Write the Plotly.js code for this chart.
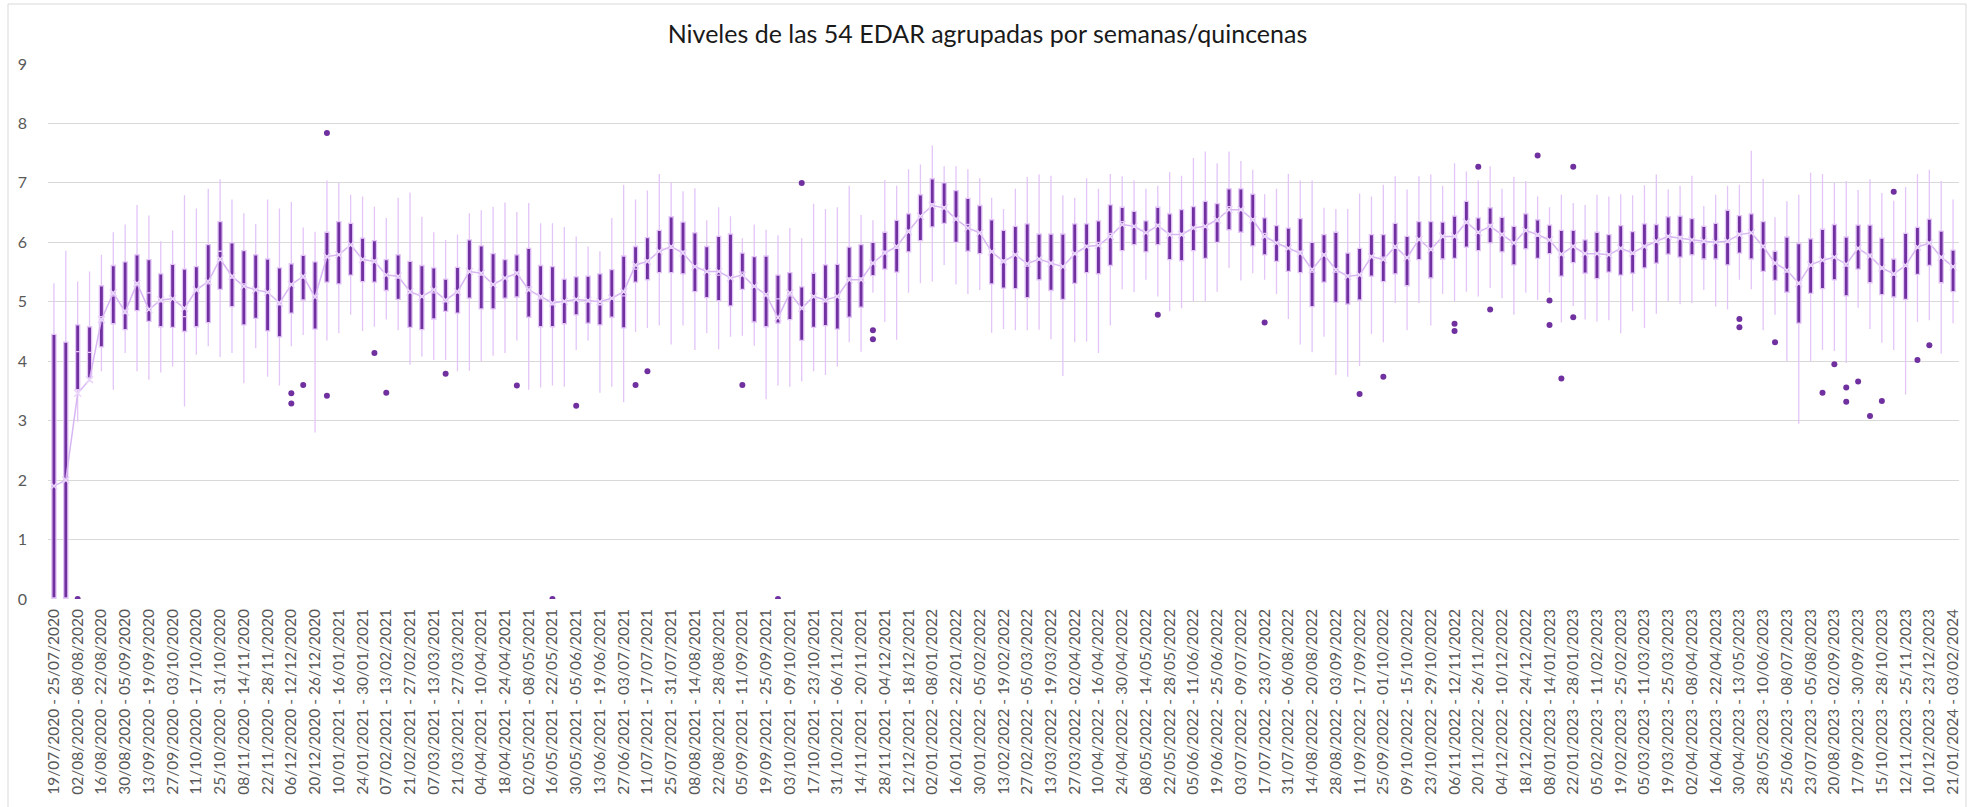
<!DOCTYPE html>
<html>
<head>
<meta charset="utf-8">
<script src="https://cdn.plot.ly/plotly-3.0.1.min.js"></script>
<style>
html,body{margin:0;padding:0;background:#fff;}
#chart{width:1975px;height:807px;}
</style>
</head>
<body>
<div id="chart"></div>
<script>
const categories = [
"19/07/2020 - 25/07/2020","26/07/2020 - 01/08/2020","02/08/2020 - 08/08/2020","09/08/2020 - 15/08/2020",
"16/08/2020 - 22/08/2020","23/08/2020 - 29/08/2020","30/08/2020 - 05/09/2020","06/09/2020 - 12/09/2020",
"13/09/2020 - 19/09/2020","20/09/2020 - 26/09/2020","27/09/2020 - 03/10/2020","04/10/2020 - 10/10/2020",
"11/10/2020 - 17/10/2020","18/10/2020 - 24/10/2020","25/10/2020 - 31/10/2020","01/11/2020 - 07/11/2020",
"08/11/2020 - 14/11/2020","15/11/2020 - 21/11/2020","22/11/2020 - 28/11/2020","29/11/2020 - 05/12/2020",
"06/12/2020 - 12/12/2020","13/12/2020 - 19/12/2020","20/12/2020 - 26/12/2020","27/12/2020 - 09/01/2021",
"10/01/2021 - 16/01/2021","17/01/2021 - 23/01/2021","24/01/2021 - 30/01/2021","31/01/2021 - 06/02/2021",
"07/02/2021 - 13/02/2021","14/02/2021 - 20/02/2021","21/02/2021 - 27/02/2021","28/02/2021 - 06/03/2021",
"07/03/2021 - 13/03/2021","14/03/2021 - 20/03/2021","21/03/2021 - 27/03/2021","28/03/2021 - 03/04/2021",
"04/04/2021 - 10/04/2021","11/04/2021 - 17/04/2021","18/04/2021 - 24/04/2021","25/04/2021 - 01/05/2021",
"02/05/2021 - 08/05/2021","09/05/2021 - 15/05/2021","16/05/2021 - 22/05/2021","23/05/2021 - 29/05/2021",
"30/05/2021 - 05/06/2021","06/06/2021 - 12/06/2021","13/06/2021 - 19/06/2021","20/06/2021 - 26/06/2021",
"27/06/2021 - 03/07/2021","04/07/2021 - 10/07/2021","11/07/2021 - 17/07/2021","18/07/2021 - 24/07/2021",
"25/07/2021 - 31/07/2021","01/08/2021 - 07/08/2021","08/08/2021 - 14/08/2021","15/08/2021 - 21/08/2021",
"22/08/2021 - 28/08/2021","29/08/2021 - 04/09/2021","05/09/2021 - 11/09/2021","12/09/2021 - 18/09/2021",
"19/09/2021 - 25/09/2021","26/09/2021 - 02/10/2021","03/10/2021 - 09/10/2021","10/10/2021 - 16/10/2021",
"17/10/2021 - 23/10/2021","24/10/2021 - 30/10/2021","31/10/2021 - 06/11/2021","07/11/2021 - 13/11/2021",
"14/11/2021 - 20/11/2021","21/11/2021 - 27/11/2021","28/11/2021 - 04/12/2021","05/12/2021 - 11/12/2021",
"12/12/2021 - 18/12/2021","19/12/2021 - 01/01/2022","02/01/2022 - 08/01/2022","09/01/2022 - 15/01/2022",
"16/01/2022 - 22/01/2022","23/01/2022 - 29/01/2022","30/01/2022 - 05/02/2022","06/02/2022 - 12/02/2022",
"13/02/2022 - 19/02/2022","20/02/2022 - 26/02/2022","27/02/2022 - 05/03/2022","06/03/2022 - 12/03/2022",
"13/03/2022 - 19/03/2022","20/03/2022 - 26/03/2022","27/03/2022 - 02/04/2022","03/04/2022 - 09/04/2022",
"10/04/2022 - 16/04/2022","17/04/2022 - 23/04/2022","24/04/2022 - 30/04/2022","01/05/2022 - 07/05/2022",
"08/05/2022 - 14/05/2022","15/05/2022 - 21/05/2022","22/05/2022 - 28/05/2022","29/05/2022 - 04/06/2022",
"05/06/2022 - 11/06/2022","12/06/2022 - 18/06/2022","19/06/2022 - 25/06/2022","26/06/2022 - 02/07/2022",
"03/07/2022 - 09/07/2022","10/07/2022 - 16/07/2022","17/07/2022 - 23/07/2022","24/07/2022 - 30/07/2022",
"31/07/2022 - 06/08/2022","07/08/2022 - 13/08/2022","14/08/2022 - 20/08/2022","21/08/2022 - 27/08/2022",
"28/08/2022 - 03/09/2022","04/09/2022 - 10/09/2022","11/09/2022 - 17/09/2022","18/09/2022 - 24/09/2022",
"25/09/2022 - 01/10/2022","02/10/2022 - 08/10/2022","09/10/2022 - 15/10/2022","16/10/2022 - 22/10/2022",
"23/10/2022 - 29/10/2022","30/10/2022 - 05/11/2022","06/11/2022 - 12/11/2022","13/11/2022 - 19/11/2022",
"20/11/2022 - 26/11/2022","27/11/2022 - 03/12/2022","04/12/2022 - 10/12/2022","11/12/2022 - 17/12/2022",
"18/12/2022 - 24/12/2022","25/12/2022 - 07/01/2023","08/01/2023 - 14/01/2023","15/01/2023 - 21/01/2023",
"22/01/2023 - 28/01/2023","29/01/2023 - 04/02/2023","05/02/2023 - 11/02/2023","12/02/2023 - 18/02/2023",
"19/02/2023 - 25/02/2023","26/02/2023 - 04/03/2023","05/03/2023 - 11/03/2023","12/03/2023 - 18/03/2023",
"19/03/2023 - 25/03/2023","26/03/2023 - 01/04/2023","02/04/2023 - 08/04/2023","09/04/2023 - 15/04/2023",
"16/04/2023 - 22/04/2023","23/04/2023 - 29/04/2023","30/04/2023 - 13/05/2023","14/05/2023 - 27/05/2023",
"28/05/2023 - 10/06/2023","11/06/2023 - 24/06/2023","25/06/2023 - 08/07/2023","09/07/2023 - 22/07/2023",
"23/07/2023 - 05/08/2023","06/08/2023 - 19/08/2023","20/08/2023 - 02/09/2023","03/09/2023 - 16/09/2023",
"17/09/2023 - 30/09/2023","01/10/2023 - 14/10/2023","15/10/2023 - 28/10/2023","29/10/2023 - 11/11/2023",
"12/11/2023 - 25/11/2023","26/11/2023 - 09/12/2023","10/12/2023 - 23/12/2023","24/12/2023 - 20/01/2024",
"21/01/2024 - 03/02/2024"
];

// tick labels shown (every other category)
const tickLabels = [
"19/07/2020 - 25/07/2020","02/08/2020 - 08/08/2020","16/08/2020 - 22/08/2020","30/08/2020 - 05/09/2020",
"13/09/2020 - 19/09/2020","27/09/2020 - 03/10/2020","11/10/2020 - 17/10/2020","25/10/2020 - 31/10/2020",
"08/11/2020 - 14/11/2020","22/11/2020 - 28/11/2020","06/12/2020 - 12/12/2020","20/12/2020 - 26/12/2020",
"10/01/2021 - 16/01/2021","24/01/2021 - 30/01/2021","07/02/2021 - 13/02/2021","21/02/2021 - 27/02/2021",
"07/03/2021 - 13/03/2021","21/03/2021 - 27/03/2021","04/04/2021 - 10/04/2021","18/04/2021 - 24/04/2021",
"02/05/2021 - 08/05/2021","16/05/2021 - 22/05/2021","30/05/2021 - 05/06/2021","13/06/2021 - 19/06/2021",
"27/06/2021 - 03/07/2021","11/07/2021 - 17/07/2021","25/07/2021 - 31/07/2021","08/08/2021 - 14/08/2021",
"22/08/2021 - 28/08/2021","05/09/2021 - 11/09/2021","19/09/2021 - 25/09/2021","03/10/2021 - 09/10/2021",
"17/10/2021 - 23/10/2021","31/10/2021 - 06/11/2021","14/11/2021 - 20/11/2021","28/11/2021 - 04/12/2021",
"12/12/2021 - 18/12/2021","02/01/2022 - 08/01/2022","16/01/2022 - 22/01/2022","30/01/2022 - 05/02/2022",
"13/02/2022 - 19/02/2022","27/02/2022 - 05/03/2022","13/03/2022 - 19/03/2022","27/03/2022 - 02/04/2022",
"10/04/2022 - 16/04/2022","24/04/2022 - 30/04/2022","08/05/2022 - 14/05/2022","22/05/2022 - 28/05/2022",
"05/06/2022 - 11/06/2022","19/06/2022 - 25/06/2022","03/07/2022 - 09/07/2022","17/07/2022 - 23/07/2022",
"31/07/2022 - 06/08/2022","14/08/2022 - 20/08/2022","28/08/2022 - 03/09/2022","11/09/2022 - 17/09/2022",
"25/09/2022 - 01/10/2022","09/10/2022 - 15/10/2022","23/10/2022 - 29/10/2022","06/11/2022 - 12/11/2022",
"20/11/2022 - 26/11/2022","04/12/2022 - 10/12/2022","18/12/2022 - 24/12/2022","08/01/2023 - 14/01/2023",
"22/01/2023 - 28/01/2023","05/02/2023 - 11/02/2023","19/02/2023 - 25/02/2023","05/03/2023 - 11/03/2023",
"19/03/2023 - 25/03/2023","02/04/2023 - 08/04/2023","16/04/2023 - 22/04/2023","30/04/2023 - 13/05/2023",
"28/05/2023 - 10/06/2023","25/06/2023 - 08/07/2023","23/07/2023 - 05/08/2023","20/08/2023 - 02/09/2023",
"17/09/2023 - 30/09/2023","15/10/2023 - 28/10/2023","12/11/2023 - 25/11/2023","10/12/2023 - 23/12/2023",
"21/01/2024 - 03/02/2024"
];

const q1 = [
0,0,3.52,3.71,4.24,4.63,4.53,4.85,4.67,4.58,4.57,4.50,4.58,4.65,5.21,4.92,4.61,4.72,4.51,4.41,
4.81,5.03,4.54,5.33,5.30,5.45,5.34,5.33,5.19,5.04,4.57,4.53,4.71,4.84,4.81,5.06,4.88,4.88,5.06,5.08,
4.74,4.58,4.58,4.63,4.78,4.64,4.61,4.74,4.56,5.33,5.37,5.49,5.49,5.47,5.17,5.07,5.02,4.93,5.21,4.66,
4.58,4.64,4.70,4.35,4.57,4.60,4.54,4.74,4.91,5.44,5.55,5.50,5.84,6.03,6.26,6.32,6.00,5.85,5.81,5.30,
5.23,5.22,5.07,5.37,5.19,5.04,5.31,5.49,5.47,5.61,5.86,5.96,5.84,5.96,5.71,5.69,5.86,5.73,6.00,6.21,
6.17,5.94,5.79,5.68,5.51,5.49,4.92,5.33,4.99,4.96,5.03,5.43,5.34,5.47,5.27,5.71,5.40,5.72,5.73,5.92,
5.86,5.99,5.84,5.62,5.89,5.73,5.81,5.43,5.66,5.48,5.39,5.50,5.45,5.48,5.57,5.65,5.80,5.75,5.79,5.72,
5.72,5.62,5.82,5.72,5.51,5.36,5.16,4.64,5.14,5.22,5.37,5.10,5.55,5.32,5.12,5.08,5.04,5.46,5.61,5.32,
5.17
];
const median = [
0,0,4.16,4.15,4.75,5.10,4.80,5.30,5.15,5.00,5.05,4.75,5.20,5.30,5.85,5.40,5.30,5.20,5.15,4.95,
5.30,5.40,5.10,5.75,5.80,5.95,5.70,5.70,5.45,5.40,5.15,5.10,5.15,5.00,5.15,5.50,5.45,5.30,5.40,5.50,
5.25,5.05,4.95,5.00,5.05,5.00,4.95,5.05,5.10,5.55,5.70,5.85,5.90,5.85,5.60,5.50,5.45,5.40,5.50,5.25,
5.10,5.05,5.10,4.90,5.10,5.00,5.10,5.40,5.40,5.65,5.85,5.90,6.20,6.45,6.65,6.60,6.40,6.30,6.15,5.85,
5.70,5.80,5.60,5.70,5.65,5.60,5.80,5.95,6.00,6.15,6.35,6.25,6.15,6.30,6.15,6.15,6.25,6.25,6.35,6.60,
6.55,6.40,6.15,6.00,5.90,5.85,5.50,5.80,5.50,5.45,5.45,5.75,5.75,5.90,5.75,6.05,5.90,6.10,6.10,6.35,
6.15,6.30,6.15,6.00,6.20,6.10,6.05,5.80,5.95,5.80,5.80,5.80,5.90,5.80,5.95,6.00,6.10,6.10,6.05,6.00,
6.00,6.00,6.15,6.15,5.95,5.65,5.50,5.30,5.60,5.70,5.75,5.60,5.90,5.80,5.55,5.45,5.60,5.90,6.00,5.75,
5.60
];
const q3 = [
4.45,4.32,4.61,4.58,5.27,5.61,5.67,5.79,5.71,5.47,5.63,5.55,5.59,5.96,6.35,5.99,5.86,5.79,5.72,5.57,
5.64,5.78,5.67,6.17,6.35,6.32,6.07,6.03,5.71,5.79,5.68,5.61,5.57,5.38,5.58,6.04,5.94,5.81,5.71,5.79,
5.90,5.61,5.59,5.38,5.42,5.43,5.47,5.54,5.77,5.93,6.08,6.20,6.43,6.34,6.16,5.93,6.10,6.14,5.82,5.76,
5.77,5.45,5.49,5.25,5.48,5.62,5.63,5.92,5.96,6.00,6.17,6.37,6.48,6.80,7.07,7.00,6.87,6.74,6.62,6.38,
6.20,6.27,6.31,6.14,6.14,6.14,6.31,6.31,6.36,6.63,6.59,6.52,6.36,6.59,6.48,6.55,6.60,6.69,6.65,6.90,
6.90,6.81,6.41,6.28,6.24,6.40,6.00,6.13,6.17,5.82,5.90,6.13,6.13,6.32,6.10,6.35,6.35,6.34,6.44,6.69,
6.41,6.58,6.42,6.27,6.48,6.38,6.29,6.20,6.20,6.04,6.17,6.13,6.28,6.18,6.31,6.30,6.43,6.44,6.40,6.27,
6.32,6.54,6.45,6.48,6.35,5.85,6.09,5.98,6.06,6.22,6.30,6.09,6.29,6.29,6.07,5.72,6.15,6.25,6.39,6.19,
5.87
];
const lowerFence = [
0,0,2.98,3.66,3.83,3.52,4.14,3.83,3.69,3.81,3.91,3.24,4.11,4.25,4.07,4.14,3.63,4.22,3.74,3.59,
4.25,4.44,2.80,4.35,4.47,4.78,4.51,4.58,4.70,4.52,3.94,4.08,4.02,4.02,3.83,3.84,4.00,4.09,4.14,4.35,
3.52,3.56,3.59,3.57,4.19,4.35,3.47,3.57,3.31,4.49,4.56,4.60,4.28,4.60,4.19,4.47,4.20,4.41,4.43,4.26,
3.36,3.59,3.57,3.66,3.83,3.77,3.91,4.32,4.16,5.15,4.66,4.36,5.15,5.31,5.34,5.62,5.29,5.13,5.20,4.48,
4.54,4.52,4.52,4.53,4.37,3.75,4.32,4.33,4.14,4.60,5.21,5.16,5.37,5.09,4.84,4.89,5.01,5.01,5.17,5.57,
5.36,5.48,5.37,5.13,4.71,4.28,4.15,4.41,3.77,3.74,3.92,4.46,4.32,4.98,4.52,4.98,4.60,5.13,5.01,5.17,
5.09,5.23,5.06,4.78,5.15,5.03,5.15,4.65,4.93,4.70,4.67,4.69,4.47,4.84,4.56,4.80,5.01,4.96,4.98,5.20,
4.92,4.87,5.37,5.21,4.52,4.78,4.00,2.95,4.00,4.19,4.17,3.97,4.90,4.54,4.31,4.19,3.44,4.66,4.69,4.13,
4.64
];
const upperFence = [
5.31,5.86,5.34,5.51,5.79,6.17,6.30,6.63,6.45,6.02,6.20,6.79,6.57,6.90,7.06,6.72,6.49,6.31,6.72,6.57,
6.68,6.25,6.18,7.04,7.00,6.80,6.77,6.60,6.41,6.75,6.84,6.43,6.17,6.04,6.13,6.49,6.54,6.60,6.67,6.51,
6.66,6.32,6.32,6.26,6.10,5.93,5.85,6.41,6.97,6.72,6.87,7.15,7.01,6.86,6.91,6.37,6.59,6.44,6.07,6.30,
6.21,6.12,6.24,6.07,6.65,6.56,6.59,6.95,6.46,6.37,7.05,6.95,7.23,7.31,7.63,7.28,7.28,7.23,7.08,6.75,
6.56,6.90,7.10,7.14,7.12,6.79,6.75,7.08,6.90,7.15,7.11,7.04,6.90,6.95,7.18,7.12,7.42,7.53,7.33,7.53,
7.37,7.22,6.81,6.90,7.15,7.04,7.04,6.58,6.56,6.56,6.82,6.77,6.97,7.11,6.89,7.11,7.14,6.95,7.33,7.19,
7.04,7.28,6.90,7.10,7.03,6.77,6.59,6.80,6.66,6.63,6.80,6.77,6.81,6.79,6.96,7.14,6.89,6.95,7.12,6.61,
6.80,6.95,6.97,7.54,7.07,6.42,6.69,6.80,7.17,7.15,7.00,7.03,6.88,7.06,6.83,6.70,6.93,7.15,7.22,7.03,
6.72
];
const mean = [
1.90,2.00,3.46,3.69,4.70,5.15,4.83,5.31,4.87,5.03,5.05,4.89,5.20,5.34,5.72,5.43,5.26,5.20,5.16,4.98,
5.29,5.43,5.08,5.76,5.79,5.96,5.71,5.68,5.45,5.43,5.17,5.09,5.20,5.03,5.17,5.51,5.48,5.29,5.40,5.48,
5.20,5.09,4.98,5.01,5.04,5.02,5.00,5.06,5.17,5.62,5.68,5.85,5.93,5.82,5.59,5.51,5.51,5.40,5.45,5.26,
5.12,4.73,5.15,4.89,5.09,5.03,5.09,5.37,5.37,5.65,5.82,5.93,6.18,6.44,6.62,6.58,6.39,6.24,6.16,5.84,
5.68,5.79,5.64,5.72,5.65,5.59,5.81,5.93,5.95,6.10,6.30,6.27,6.16,6.28,6.13,6.13,6.24,6.27,6.38,6.55,
6.55,6.38,6.10,5.99,5.90,5.82,5.54,5.79,5.54,5.43,5.45,5.76,5.71,5.93,5.74,6.05,5.88,6.10,6.10,6.34,
6.17,6.27,6.13,5.99,6.20,6.13,6.04,5.80,5.93,5.81,5.81,5.79,5.90,5.82,5.93,6.02,6.10,6.07,6.04,6.02,
6.00,6.02,6.13,6.16,5.93,5.65,5.53,5.31,5.62,5.70,5.75,5.63,5.90,5.77,5.57,5.47,5.61,5.92,5.99,5.75,
5.59
];

// outliers: index into categories, value
const outlierIdx = [2,20,20,21,23,23,27,28,33,39,42,44,49,50,58,61,63,69,69,93,102,110,112,118,118,
120,121,125,126,126,127,128,128,142,142,145,149,150,151,151,152,153,154,155,157,158];
const outlierVal = [0,3.46,3.29,3.60,7.84,3.42,4.14,3.47,3.79,3.59,0,3.25,3.60,3.83,3.60,0,7.00,4.52,4.37,4.78,4.65,3.45,3.74,4.63,4.51,
7.27,4.87,7.46,5.02,4.61,3.71,7.27,4.74,4.71,4.57,4.32,3.47,3.95,3.56,3.32,3.66,3.08,3.33,6.85,4.02,4.27];

const DARK = '#7030A0';
const LIGHT = '#E3C5F8';
const MEANC = '#D8B6F2';
const FONT = 'Lato, "Open Sans", sans-serif';

const traces = [
  {
    type: 'box',
    x: categories,
    q1: q1, median: median, q3: q3,
    lowerfence: lowerFence, upperfence: upperFence,
    boxpoints: false,
    whiskerwidth: 0,
    fillcolor: DARK,
    line: {color: LIGHT, width: 1.3},
    showlegend: false,
    hoverinfo: 'y'
  },
  {
    type: 'scatter',
    mode: 'lines+markers',
    x: categories,
    y: mean,
    line: {color: MEANC, width: 1.5},
    marker: {symbol: 'x-thin-open', size: 7, color: '#EBD6FB', line: {color: '#EBD6FB', width: 1.5}},
    showlegend: false,
    hoverinfo: 'y'
  },
  {
    type: 'scatter',
    mode: 'markers',
    x: outlierIdx.map(i => categories[i]),
    y: outlierVal,
    marker: {color: DARK, size: 6, symbol: 'circle'},
    showlegend: false,
    hoverinfo: 'y'
  }
];

const layout = {
  width: 1975, height: 807,
  paper_bgcolor: '#ffffff', plot_bgcolor: '#ffffff',
  margin: {l: 48, r: 16, t: 64, b: 208},
  font: {family: FONT, color: '#595959'},
  title: {
    text: 'Niveles de las 54 EDAR agrupadas por semanas/quincenas',
    font: {family: FONT, size: 25, color: '#1a1a1a'},
    x: 0.5, xref: 'container', xanchor: 'center',
    y: 1 - 34 / 807, yref: 'container', yanchor: 'middle'
  },
  boxgap: 0.5,
  xaxis: {
    type: 'category',
    categoryorder: 'array', categoryarray: categories,
    range: [-0.5, categories.length - 0.5],
    tickmode: 'array', tickvals: tickLabels, ticktext: tickLabels,
    tickangle: -90,
    tickfont: {family: FONT, size: 15.5, color: '#595959'},
    showgrid: false, zeroline: false, showline: false,
    ticks: '', ticklabelstandoff: 6
  },
  yaxis: {
    range: [0, 9], dtick: 1, tick0: 0,
    gridcolor: '#D9D9D9', gridwidth: 1,
    zeroline: false, showline: false, ticks: '',
    tickfont: {family: FONT, size: 16, color: '#595959'},
    ticklabelstandoff: 20
  },
  shapes: [{
    type: 'rect', xref: 'paper', yref: 'paper',
    x0: (8 - 48) / 1911, x1: (1966 - 48) / 1911,
    y0: (599 - 830) / 535, y1: (599 - 4) / 535,
    line: {color: '#D9D9D9', width: 1}, fillcolor: 'rgba(0,0,0,0)', layer: 'below'
  }]
};

Plotly.newPlot('chart', traces, layout, {displayModeBar: false, staticPlot: true});
</script>
</body>
</html>
